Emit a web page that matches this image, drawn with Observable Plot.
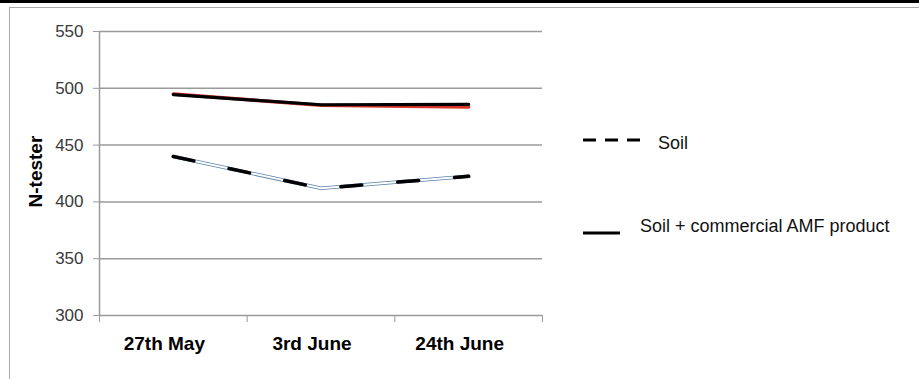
<!DOCTYPE html>
<html>
<head>
<meta charset="utf-8">
<script src="https://cdn.jsdelivr.net/npm/d3@7"></script>
<script src="https://cdn.jsdelivr.net/npm/@observablehq/plot@0.6"></script>
<style>
  html, body { margin: 0; padding: 0; background: #fff; }
  #wrap { position: relative; width: 919px; height: 379px; overflow: hidden; font-family: "Liberation Sans", Arial, sans-serif; }
  #topbar { position: absolute; left: 0; top: 0; width: 919px; height: 3px; background: #000; }
  #frame { position: absolute; left: 9px; top: 7px; width: 940px; height: 400px; border-left: 1.5px solid #aaa; border-top: 1.5px solid #aaa; }
  #chart { position: absolute; left: 0; top: 0; }
  .leg { position: absolute; font-size: 18px; color: #111; white-space: nowrap; line-height: 1; }
  .legsym { position: absolute; }
</style>
</head>
<body>
<div id="wrap">
  <div id="topbar"></div>
  <div id="frame"></div>
  <div id="chart"></div>
  <svg class="legsym" style="left:580px;top:134px" width="64" height="12"><line x1="3" y1="6" x2="60" y2="6" stroke="#000" stroke-width="3" stroke-dasharray="13,9"/></svg>
  <div class="leg" style="left:658px;top:134px">Soil</div>
  <svg class="legsym" style="left:580px;top:227px" width="44" height="12"><line x1="3" y1="6" x2="40" y2="6" stroke="#000" stroke-width="3"/></svg>
  <div class="leg" style="left:640px;top:217px">Soil + commercial AMF product</div>
</div>
<script>
const dates = ["27th May", "3rd June", "24th June"];
const soil = [440, 412, 422.5];
const amfBlack = [494.5, 485.5, 485.8];
const amfRed = [495, 485, 483.5];
const yTicks = [300, 350, 400, 450, 500, 550];
const xBounds = [-0.5, 0.5, 1.5, 2.5];

const rows = (vals) => vals.map((v, i) => ({i, date: dates[i], v}));

const chart = Plot.plot({
  width: 919,
  height: 379,
  marginLeft: 99,
  marginRight: 377,
  marginTop: 31,
  marginBottom: 64,
  style: {fontFamily: "'Liberation Sans', Arial, sans-serif", background: "transparent"},
  x: {domain: [-0.5, 2.5]},
  y: {domain: [300, 550]},
  marks: [
    Plot.gridY(yTicks, {stroke: "#9a9a9a", strokeOpacity: 1, strokeWidth: 1.5}),
    Plot.ruleX([-0.5], {stroke: "#9a9a9a", strokeWidth: 1.5}),
    Plot.axisY({ticks: yTicks, tickSize: 6, tickPadding: 10, fontSize: 17, stroke: "#9a9a9a", fill: "#3a3a3a", label: null}),
    Plot.axisX({ticks: xBounds, tickSize: 7, tickFormat: () => "", stroke: "#9a9a9a", label: null}),
    Plot.axisX({ticks: [0, 1, 2], tickSize: 0, tickPadding: 21, tickFormat: (d) => dates[d], fontSize: 19, fontWeight: "bold", fill: "#000", dx: -9, label: null}),
    Plot.text(["N-tester"], {frameAnchor: "left", rotate: -90, dx: -64, dy: 34, fontSize: 19, fontWeight: "bold", fill: "#000"}),
    // Soil: thin blue line with white core, black long dashes on top
    Plot.line(rows(soil), {x: "i", y: "v", stroke: "#5a7fa8", strokeWidth: 3.5}),
    Plot.line(rows(soil), {x: "i", y: "v", stroke: "#fff", strokeWidth: 2}),
    Plot.line(rows(soil), {x: "i", y: "v", stroke: "#000", strokeWidth: 3.5, strokeDasharray: "21,36"}),
    // Soil + AMF: red line under black solid line
    Plot.line(rows(amfRed), {x: "i", y: "v", stroke: "#d9362b", strokeWidth: 3.5}),
    Plot.line(rows(amfBlack), {x: "i", y: "v", stroke: "#000", strokeWidth: 3.2})
  ]
});
document.getElementById("chart").appendChild(chart);
</script>
</body>
</html>
